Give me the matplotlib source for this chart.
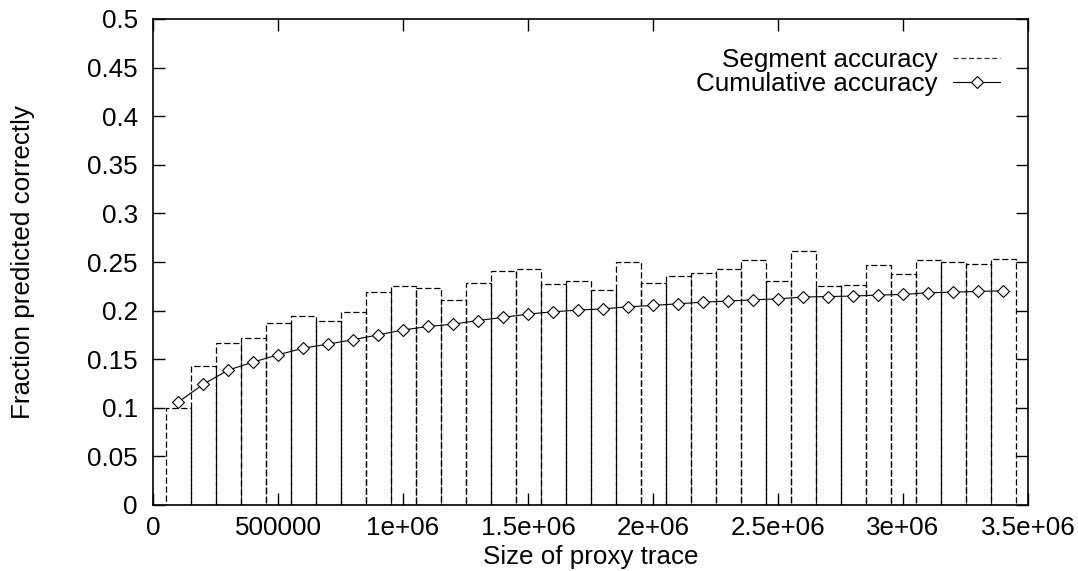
import matplotlib
matplotlib.use('Agg')
import matplotlib.pyplot as plt
from matplotlib.lines import Line2D

plt.rcParams['font.family'] = ['Liberation Sans', 'DejaVu Sans']

# trace size at the centre of each segment
trace_size = [100000 * i for i in range(1, 35)]

segment_acc = [0.100, 0.1425, 0.167, 0.1723, 0.187, 0.1943, 0.1895, 0.1984, 0.2187, 0.2252,
               0.2232, 0.2104, 0.2286, 0.2403, 0.2424, 0.2273, 0.2300, 0.2210, 0.2496, 0.2286,
               0.2352, 0.2386, 0.2424, 0.2520, 0.2303, 0.2612, 0.2252, 0.2262, 0.2465, 0.2375,
               0.2523, 0.2496, 0.2479, 0.2533]

cumulative_acc = [0.1057, 0.124, 0.1387, 0.147, 0.1545, 0.1613, 0.1655, 0.170, 0.175, 0.180,
                  0.1837, 0.186, 0.1898, 0.193, 0.1964, 0.1988, 0.2005, 0.2018, 0.2039, 0.2053,
                  0.207, 0.2087, 0.2098, 0.2111, 0.2121, 0.2139, 0.2145, 0.2149, 0.216, 0.2166,
                  0.2183, 0.219, 0.2197, 0.2204]

x_ticks = [0, 500000, 1000000, 1500000, 2000000, 2500000, 3000000, 3500000]
x_tick_labels = ['0', '500000', '1e+06', '1.5e+06', '2e+06', '2.5e+06', '3e+06', '3.5e+06']
y_ticks = [0, 0.05, 0.1, 0.15, 0.2, 0.25, 0.3, 0.35, 0.4, 0.45, 0.5]
y_tick_labels = ['0', '0.05', '0.1', '0.15', '0.2', '0.25', '0.3', '0.35', '0.4', '0.45', '0.5']

FS = 18.7
W, H = 1078, 571

fig = plt.figure(figsize=(W / 100, H / 100), dpi=100)
ax = fig.add_axes([153 / W, 1 - 505 / H, (1028 - 153) / W, (505 - 19) / H])

dash = (0, (5, 2.2))
ax.bar(trace_size, segment_acc, width=100000, fill=False, edgecolor='black',
       linestyle=dash, linewidth=0.9)
ax.plot(trace_size, cumulative_acc, '-', color='black', lw=0.8, marker='D',
        ms=6.5, mfc='white', mec='black', mew=0.8)

ax.set_xlim(0, 3500000)
ax.set_ylim(0, 0.5)
ax.set_xticks(x_ticks)
ax.set_xticklabels(x_tick_labels)
ax.set_yticks(y_ticks)
ax.set_yticklabels(y_tick_labels)
ax.tick_params(direction='in', length=8.6, width=1, top=True, right=True,
               labelsize=FS)
ax.tick_params(axis='y', pad=11)
ax.tick_params(axis='x', pad=8)
for s in ax.spines.values():
    s.set_linewidth(1.2)

ax.set_xlabel('Size of proxy trace', fontsize=FS)
ax.set_ylabel('Fraction predicted correctly', fontsize=FS)
ax.xaxis.set_label_coords(590.5 / W, 1 - 545 / H, transform=fig.transFigure)
ax.yaxis.set_label_coords(35 / W, 1 - 262 / H, transform=fig.transFigure)

handles = [Line2D([], [], color='#333333', linestyle=(0, (4, 2.2)), lw=0.9),
           Line2D([], [], color='black', lw=0.8, marker='D', ms=6.5,
                  mfc='white', mec='black', mew=0.8)]
ax.legend(handles, ['Segment accuracy', 'Cumulative accuracy'], loc='upper right',
          bbox_to_anchor=(1000 / W, 1 - 48 / H), bbox_transform=fig.transFigure,
          frameon=False, markerfirst=False, fontsize=FS, handlelength=1.8,
          handletextpad=0.6, labelspacing=0.0, borderpad=0, borderaxespad=0)

fig.savefig('out.png', dpi=100)
